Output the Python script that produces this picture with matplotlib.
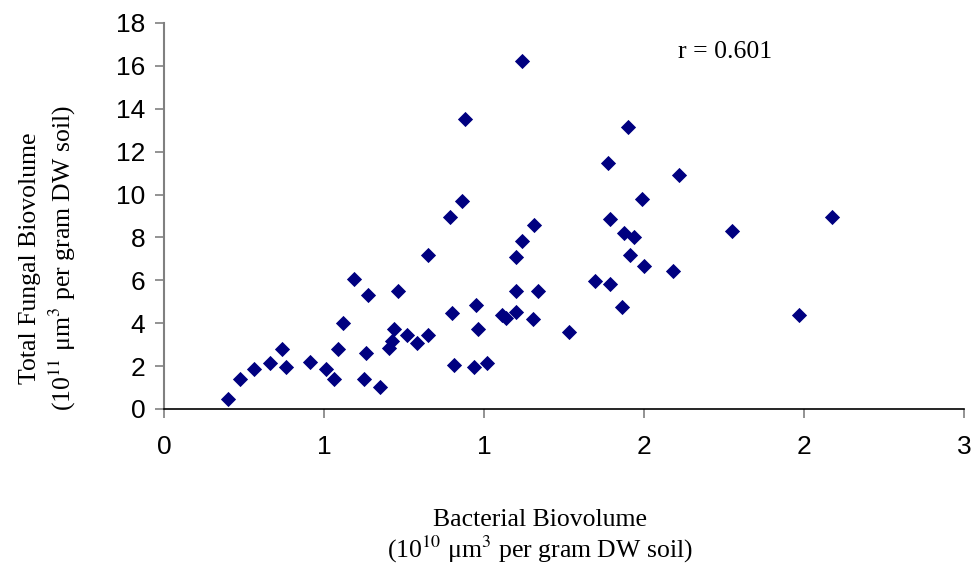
"""Scatter of total fungal biovolume against bacterial biovolume."""

import matplotlib
matplotlib.use('Agg')
from matplotlib import pyplot

# bacterial biovolume (10^10 um^3 per g DW soil)
bact = [0.199, 0.237, 0.281, 0.331, 0.369, 0.381, 0.456, 0.506, 0.531, 0.544,
        0.560, 0.594, 0.625, 0.631, 0.638, 0.674, 0.704, 0.711, 0.719, 0.730,
        0.760, 0.792, 0.824, 0.825, 0.893, 0.899, 0.906, 0.930, 0.942, 0.969,
        0.974, 0.980, 1.010,
        1.055, 1.069, 1.099, 1.099, 1.100, 1.118, 1.118, 1.154, 1.155, 1.168,
        1.267, 1.347, 1.393, 1.387, 1.393, 1.430, 1.436, 1.449, 1.455, 1.468,
        1.493, 1.499, 1.592, 1.610, 1.774, 1.985, 2.086]
# total fungal biovolume (10^11 um^3 per g DW soil)
fungal = [0.45, 1.38, 1.85, 2.13, 2.78, 1.94, 2.21, 1.85, 1.38, 2.78,
          4.00, 6.05, 1.38, 2.60, 5.33, 1.01, 2.86, 3.17, 3.72, 5.50,
          3.45, 3.09, 3.45, 7.17, 8.94, 4.46, 2.05, 9.69, 13.51, 1.94,
          4.85, 3.72, 2.13,
          4.38, 4.23, 7.09, 5.49, 4.54, 7.84, 16.22, 4.18, 8.57, 5.49,
          3.61, 5.97, 5.85, 11.46, 8.86, 4.74, 8.22, 13.14, 7.17, 8.01,
          9.78, 6.68, 6.44, 10.91, 8.30, 4.38, 8.94]

xticks = [0.0, 0.5, 1.0, 1.5, 2.0, 2.5]
xtick_labels = ['0', '1', '1', '2', '2', '3']
yticks = [0, 2, 4, 6, 8, 10, 12, 14, 16, 18]
r_text = 'r = 0.601'

pyplot.rcParams['mathtext.fontset'] = 'stix'
serif = 'Liberation Serif'
sans = 'Liberation Sans'

fig = pyplot.figure(figsize=(9.76, 5.65), dpi=100)
ax = fig.add_axes([164 / 976, 1 - 409 / 565, 800 / 976, 386 / 565])

ax.scatter(bact, fungal, marker='D', s=60, color='#000080', linewidths=0,
           zorder=3)

ax.set_xlim(0, 2.5)
ax.set_ylim(0, 18)
ax.set_xticks(xticks)
ax.set_xticklabels(xtick_labels)
ax.set_yticks(yticks)
for lab in ax.get_xticklabels() + ax.get_yticklabels():
    lab.set_fontfamily(sans)
    lab.set_fontsize(19)
ax.tick_params(axis='both', direction='out', length=6.5, width=1.2,
               color='#808080')
ax.tick_params(axis='y', pad=7)
ax.tick_params(axis='x', pad=12)

for side in ('top', 'right'):
    ax.spines[side].set_visible(False)
ax.spines['left'].set_color('#808080')
ax.spines['left'].set_linewidth(1.5)
ax.spines['bottom'].set_color('black')
ax.spines['bottom'].set_linewidth(1.2)

ax.text(1.606, 16.65, r_text, family=serif, fontsize=18.5, va='center',
        ha='left')

fig.text(540 / 976, 1 - 520 / 565, 'Bacterial Biovolume', family=serif,
         fontsize=18.5, ha='center', va='center')
fig.text(540 / 976, 1 - 549 / 565,
         '(10$^{10}$ \u03bcm$^{3}$ per gram DW soil)', family=serif,
         fontsize=18.5, ha='center', va='center')
fig.text(30 / 976, 1 - 258 / 565, 'Total Fungal Biovolume', family=serif,
         fontsize=18.5, ha='center', va='center', rotation=90)
fig.text(62 / 976, 1 - 258 / 565,
         '(10$^{11}$ \u03bcm$^{3}$ per gram DW soil)', family=serif,
         fontsize=18.5, ha='center', va='center', rotation=90)

fig.savefig('out.png', dpi=100)
